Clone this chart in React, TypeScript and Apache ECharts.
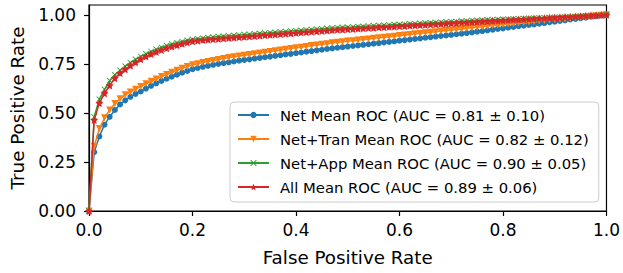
import React, { useEffect, useRef } from "react";
import * as echarts from "echarts";

const fpr = [
  0, 0.01, 0.02, 0.03, 0.04, 0.05, 0.06, 0.07, 0.08, 0.09,
  0.1, 0.11, 0.12, 0.13, 0.14, 0.15, 0.16, 0.17, 0.18, 0.19,
  0.2, 0.21, 0.22, 0.23, 0.24, 0.25, 0.26, 0.27, 0.28, 0.29,
  0.3, 0.31, 0.32, 0.33, 0.34, 0.35, 0.36, 0.37, 0.38, 0.39,
  0.4, 0.41, 0.42, 0.43, 0.44, 0.45, 0.46, 0.47, 0.48, 0.49,
  0.5, 0.51, 0.52, 0.53, 0.54, 0.55, 0.56, 0.57, 0.58, 0.59,
  0.6, 0.61, 0.62, 0.63, 0.64, 0.65, 0.66, 0.67, 0.68, 0.69,
  0.7, 0.71, 0.72, 0.73, 0.74, 0.75, 0.76, 0.77, 0.78, 0.79,
  0.8, 0.81, 0.82, 0.83, 0.84, 0.85, 0.86, 0.87, 0.88, 0.89,
  0.9, 0.91, 0.92, 0.93, 0.94, 0.95, 0.96, 0.97, 0.98, 0.99, 1.0,
];

const tprNet = [
  0, 0.30, 0.38, 0.44, 0.48, 0.515, 0.543, 0.564, 0.582, 0.597,
  0.609, 0.624, 0.638, 0.651, 0.663, 0.674, 0.685, 0.695, 0.705, 0.714,
  0.723, 0.729, 0.735, 0.740, 0.745, 0.750, 0.754, 0.758, 0.762, 0.766,
  0.770, 0.773, 0.777, 0.780, 0.784, 0.787, 0.791, 0.794, 0.798, 0.801,
  0.805, 0.808, 0.812, 0.815, 0.819, 0.822, 0.826, 0.829, 0.832, 0.835,
  0.838, 0.841, 0.844, 0.847, 0.850, 0.853, 0.856, 0.859, 0.862, 0.865,
  0.868, 0.871, 0.874, 0.877, 0.880, 0.883, 0.886, 0.889, 0.892, 0.895,
  0.898, 0.901, 0.904, 0.907, 0.910, 0.914, 0.917, 0.921, 0.924, 0.928,
  0.931, 0.935, 0.938, 0.942, 0.945, 0.948, 0.951, 0.955, 0.958, 0.962,
  0.965, 0.969, 0.972, 0.976, 0.979, 0.983, 0.986, 0.990, 0.993, 0.997, 1.0,
];

const tprNetTran = [
  0, 0.33, 0.42, 0.475, 0.515, 0.548, 0.572, 0.592, 0.607, 0.621,
  0.634, 0.648, 0.661, 0.673, 0.685, 0.696, 0.707, 0.717, 0.727, 0.736,
  0.745, 0.751, 0.757, 0.762, 0.767, 0.772, 0.777, 0.782, 0.786, 0.790,
  0.794, 0.798, 0.802, 0.805, 0.809, 0.813, 0.817, 0.820, 0.824, 0.828,
  0.832, 0.835, 0.839, 0.843, 0.846, 0.850, 0.853, 0.857, 0.860, 0.863,
  0.866, 0.868, 0.871, 0.874, 0.877, 0.880, 0.883, 0.886, 0.888, 0.891,
  0.894, 0.897, 0.900, 0.903, 0.905, 0.908, 0.911, 0.914, 0.917, 0.920,
  0.922, 0.925, 0.928, 0.931, 0.934, 0.937, 0.939, 0.942, 0.945, 0.947,
  0.950, 0.953, 0.955, 0.958, 0.961, 0.963, 0.966, 0.968, 0.971, 0.973,
  0.976, 0.978, 0.980, 0.983, 0.985, 0.988, 0.990, 0.993, 0.995, 0.998, 1.0,
];

const tprNetApp = [
  0, 0.48, 0.57, 0.62, 0.665, 0.694, 0.717, 0.738, 0.756, 0.773,
  0.788, 0.801, 0.813, 0.824, 0.834, 0.843, 0.851, 0.858, 0.864, 0.870,
  0.875, 0.878, 0.881, 0.884, 0.886, 0.889, 0.891, 0.893, 0.895, 0.897,
  0.899, 0.901, 0.903, 0.905, 0.907, 0.909, 0.911, 0.913, 0.915, 0.917,
  0.919, 0.921, 0.923, 0.925, 0.927, 0.929, 0.931, 0.933, 0.934, 0.936,
  0.937, 0.938, 0.940, 0.941, 0.943, 0.944, 0.945, 0.947, 0.948, 0.950,
  0.951, 0.952, 0.954, 0.955, 0.957, 0.958, 0.959, 0.961, 0.962, 0.964,
  0.965, 0.966, 0.968, 0.969, 0.971, 0.972, 0.973, 0.974, 0.975, 0.976,
  0.977, 0.978, 0.979, 0.980, 0.981, 0.982, 0.983, 0.984, 0.985, 0.986,
  0.987, 0.988, 0.989, 0.990, 0.991, 0.993, 0.994, 0.996, 0.997, 0.999, 1.0,
];

const tprAll = [
  0, 0.464, 0.55, 0.60, 0.64, 0.677, 0.703, 0.722, 0.741, 0.758,
  0.774, 0.788, 0.800, 0.811, 0.821, 0.830, 0.838, 0.845, 0.852, 0.859,
  0.865, 0.868, 0.871, 0.873, 0.876, 0.878, 0.880, 0.882, 0.884, 0.886,
  0.888, 0.890, 0.892, 0.894, 0.896, 0.898, 0.900, 0.902, 0.904, 0.906,
  0.908, 0.910, 0.912, 0.914, 0.916, 0.918, 0.920, 0.922, 0.924, 0.925,
  0.927, 0.928, 0.930, 0.931, 0.933, 0.934, 0.936, 0.937, 0.939, 0.940,
  0.942, 0.943, 0.945, 0.946, 0.948, 0.949, 0.951, 0.952, 0.954, 0.955,
  0.957, 0.958, 0.960, 0.961, 0.963, 0.964, 0.966, 0.967, 0.969, 0.970,
  0.972, 0.973, 0.975, 0.976, 0.978, 0.979, 0.981, 0.982, 0.983, 0.985,
  0.986, 0.987, 0.989, 0.990, 0.991, 0.993, 0.994, 0.996, 0.997, 0.999, 1.0,
];

const seriesNames = [
  "Net Mean ROC (AUC = 0.81 ± 0.10)",
  "Net+Tran Mean ROC (AUC = 0.82 ± 0.12)",
  "Net+App Mean ROC (AUC = 0.90 ± 0.05)",
  "All Mean ROC (AUC = 0.89 ± 0.06)",
];
const seriesData = [tprNet, tprNetTran, tprNetApp, tprAll];
const colors = ["#1f77b4", "#ff7f0e", "#2ca02c", "#d62728"];

const xTicks = [0, 0.2, 0.4, 0.6, 0.8, 1.0];
const yTicks = [0, 0.25, 0.5, 0.75, 1.0];

const STAR =
  "path://M0,-10 L2.94,-4.05 9.51,-3.09 4.76,1.55 5.88,8.09 0,5 -5.88,8.09 -4.76,1.55 -9.51,-3.09 -2.94,-4.05Z";
const XMARK =
  "path://M-10,-8 L-8,-10 0,-2 8,-10 10,-8 2,0 10,8 8,10 0,2 -8,10 -10,8 -2,0Z";

const symbols = ["circle", "triangle", XMARK, STAR];
const symbolSizes = [6, 7, 6, 8];
const symbolRotates = [0, 180, 0, 0];

const FONT = "DejaVu Sans";

export default function App() {
  const ref = useRef<HTMLDivElement>(null);
  useEffect(() => {
    document.body.style.margin = "0";
    const chart = echarts.init(ref.current!, undefined, { renderer: "svg" });
    chart.setOption({
      animation: false,
      backgroundColor: "#fff",
      grid: {
        left: 87,
        top: 5,
        right: 15,
        bottom: 62,
        show: true,
        borderColor: "#000",
        borderWidth: 1.2,
        backgroundColor: "transparent",
      },
      legend: {
        orient: "vertical",
        left: 230,
        top: 102,
        padding: [5, 10, 7, 7],
        itemWidth: 31,
        itemHeight: 8,
        itemGap: 8,
        backgroundColor: "rgba(255,255,255,0.8)",
        borderColor: "#cccccc",
        borderWidth: 1,
        borderRadius: 4,
        data: seriesNames,
        textStyle: {
          fontFamily: FONT,
          fontSize: 14.8,
          color: "#000",
          lineHeight: 16,
          padding: [0, 0, 0, 6],
        },
      },
      xAxis: {
        type: "value",
        min: 0,
        max: 1,
        interval: 0.2,
        name: "False Positive Rate",
        nameLocation: "middle",
        nameGap: 37,
        nameTextStyle: { fontFamily: FONT, fontSize: 18.3, color: "#000" },
        axisLine: { show: true, onZero: false, lineStyle: { color: "#000", width: 1.2 } },
        axisTick: { show: true, length: 5, lineStyle: { color: "#000", width: 1.2 }, customValues: xTicks },
        axisLabel: {
          fontFamily: FONT,
          fontSize: 17,
          color: "#000",
          margin: 10,
          customValues: xTicks,
          formatter: (v: number) => v.toFixed(1),
        },
        splitLine: { show: false },
      },
      yAxis: {
        type: "value",
        min: 0,
        max: 1.05,
        interval: 0.25,
        name: "True Positive Rate",
        nameLocation: "middle",
        nameGap: 63,
        nameTextStyle: { fontFamily: FONT, fontSize: 18.3, color: "#000" },
        axisLine: { show: true, onZero: false, lineStyle: { color: "#000", width: 1.2 } },
        axisTick: { show: true, length: 5, lineStyle: { color: "#000", width: 1.2 }, customValues: yTicks },
        axisLabel: {
          fontFamily: FONT,
          fontSize: 17,
          color: "#000",
          margin: 13,
          customValues: yTicks,
          formatter: (v: number) => v.toFixed(2),
        },
        splitLine: { show: false },
      },
      series: seriesNames.map((name, i) => ({
        name,
        type: "line",
        data: fpr.map((x, j) => [x, seriesData[i][j]]),
        symbol: symbols[i],
        symbolSize: symbolSizes[i],
        symbolRotate: symbolRotates[i],
        showAllSymbol: true,
        color: colors[i],
        lineStyle: { color: colors[i], width: 1.5 },
        itemStyle: { color: colors[i] },
        z: 2 + i,
        clip: true,
      })),
    });
    return () => chart.dispose();
  }, []);
  return <div ref={ref} style={{ width: 623, height: 273 }} />;
}
